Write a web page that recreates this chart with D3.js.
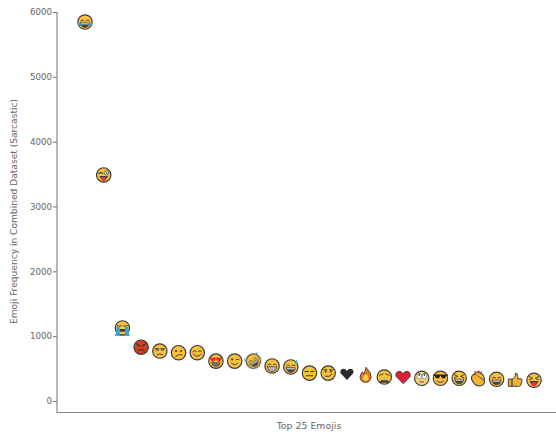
<!DOCTYPE html>
<html>
<head>
<meta charset="utf-8">
<script src="https://d3js.org/d3.v7.min.js"></script>
<style>
body { margin: 0; background: #fff; }
text { font-family: "DejaVu Sans", sans-serif; fill: #666; }
.tick text { font-size: 8.7px; }
.axisText { font-size: 9.4px; }
</style>
</head>
<body>
<div id="chart"></div>
<script>
var svgWidth = 556;
var svgHeight = 432;

var emojis = ["😂", "😜", "😭", "😡", "😒", "😕", "😊", "😍", "😉", "🤣", "😁", "😅", "😑",
    "😏", "🖤", "🔥", "😩", "❤️", "🙄", "😎", "😆", "👏", "😄", "👍", "😝"];
var counts = [5845, 3487, 1127, 830, 770, 745, 745, 615, 615, 615, 540, 525, 430,
    430, 415, 400, 370, 370, 350, 350, 350, 340, 335, 325, 320];
var yTicks = [0, 1000, 2000, 3000, 4000, 5000, 6000];

var yellow = "#f7c03c";
var dark = "#3b3b3b";

var svg = d3.select("#chart")
    .append("svg")
    .attr("width", svgWidth)
    .attr("height", svgHeight);

// The reference emojis are slightly soft raster images
svg.append("defs").append("filter")
    .attr("id", "soft")
    .append("feGaussianBlur")
    .attr("stdDeviation", 0.3);

var xScale = d3.scalePoint().domain(emojis).range([85, 534]);
var yScale = d3.scaleLinear().domain([0, 6000]).range([401, 12]);

// Axes
var leftAxis = d3.axisLeft(yScale).tickValues(yTicks).tickFormat(d3.format("d")).tickSize(4).tickPadding(1);
var yAxis = svg.append("g").attr("transform", "translate(57, 0)").call(leftAxis);
yAxis.select(".domain").remove();
yAxis.selectAll(".tick line").attr("stroke", "#777");

svg.append("path")
    .attr("d", "M57,12V412.5H556")
    .attr("fill", "none")
    .attr("stroke", "#888")
    .attr("stroke-width", 1.2);

svg.append("text")
    .attr("class", "axisText")
    .attr("transform", "translate(16.5, 211.5) rotate(-90)")
    .attr("text-anchor", "middle")
    .style("font-size", "9.1px")
    .text("Emoji Frequency in Combined Dataset (Sarcastic)");

svg.append("text")
    .attr("class", "axisText")
    .attr("x", 309)
    .attr("y", 429)
    .attr("text-anchor", "middle")
    .text("Top 25 Emojis");

// Small helpers for the emoji drawings
function shape(g, d, fill, stroke, w) {
    return g.append("path").attr("d", d)
        .attr("fill", fill || "none")
        .attr("stroke", stroke || "none")
        .attr("stroke-width", w || 1)
        .attr("stroke-linecap", "round");
}
function face(g, fill) {
    g.append("circle").attr("r", 6.8).attr("fill", fill || yellow).attr("stroke", dark).attr("stroke-width", 1.1);
}
function dots(g) {
    g.append("circle").attr("cx", -2.4).attr("cy", -1.6).attr("r", 1).attr("fill", dark);
    g.append("circle").attr("cx", 2.4).attr("cy", -1.6).attr("r", 1).attr("fill", dark);
}
function happyEyes(g) {
    shape(g, "M-4,-1.2Q-2.5,-3 -1,-1.2M1,-1.2Q2.5,-3 4,-1.2", null, dark, 0.9);
}
function grin(g) {
    shape(g, "M-4.2,0.8H4.2Q3.8,5 0,5Q-3.8,5 -4.2,0.8Z", "#444", dark, 0.7);
    shape(g, "M-3.6,1.2H3.6V2.2H-3.6Z", "#eee");
}

var glyphs = {
    "😂": function (g) {
        face(g); happyEyes(g); grin(g);
        shape(g, "M-7,0.2Q-3.6,0 -3.2,3.6Q-6.2,4.6 -7,0.2ZM7,0.2Q3.6,0 3.2,3.6Q6.2,4.6 7,0.2Z", "#3da4dc");
    },
    "😜": function (g) {
        face(g);
        g.append("circle").attr("cx", 2.6).attr("cy", -2).attr("r", 2).attr("fill", "#fff").attr("stroke", dark).attr("stroke-width", 0.7);
        g.append("circle").attr("cx", 2.8).attr("cy", -2).attr("r", 0.8).attr("fill", dark);
        shape(g, "M-4.6,-1.4Q-2.8,-3 -1,-1.4", null, dark, 1);
        shape(g, "M-4,1H4Q3,4 0,4Q-3,4 -4,1Z", dark);
        shape(g, "M-2.2,2H2.2V4.5Q0,6.8 -2.2,4.5Z", "#e8304a");
    },
    "😭": function (g) {
        face(g);
        shape(g, "M-4.6,-2Q-2.6,-1 -1,-2M1,-2Q2.6,-1 4.6,-2", null, dark, 0.9);
        shape(g, "M-2.5,1H2.5V3.5H-2.5Z", dark);
        shape(g, "M-5.5,-1H-2.5V6.8H-6.5ZM2.5,-1H5.5L6.5,6.8H2.5Z", "#35a7dd");
        shape(g, "M-6.5,6.8H6.5", null, "#1b7fb3", 0.9);
    },
    "😡": function (g) {
        face(g, "#dd3a1e");
        shape(g, "M-4.4,-3.2L-1,-1.4M4.4,-3.2L1,-1.4", null, dark, 1);
        dots(g);
        shape(g, "M-2.6,3.2Q0,1.4 2.6,3.2", null, dark, 1.2);
    },
    "😒": function (g) {
        face(g);
        shape(g, "M-4.4,-2.2H-1M1,-2.2H4.4", null, dark, 1);
        shape(g, "M-3.6,-1H-1.4M1.4,-1H3.6", null, dark, 1.1);
        shape(g, "M-2.6,3.4Q0,1.8 2.6,3.4", null, dark, 0.9);
    },
    "😕": function (g) {
        face(g); dots(g);
        shape(g, "M-2.6,3.4Q0,1.2 3,1.8", null, dark, 0.9);
    },
    "😊": function (g) {
        face(g); happyEyes(g);
        g.append("ellipse").attr("cx", -4).attr("cy", 1).attr("rx", 1.5).attr("ry", 1).attr("fill", "#f0946a");
        g.append("ellipse").attr("cx", 4).attr("cy", 1).attr("rx", 1.5).attr("ry", 1).attr("fill", "#f0946a");
        shape(g, "M-3,2Q0,5 3,2", null, dark, 0.9);
    },
    "😍": function (g) {
        face(g);
        shape(g, "M-2.8,1L-5.6,-1.8Q-5.6,-4 -3.9,-3.6L-2.8,-2.8L-1.7,-3.6Q0,-4 0,-1.8Z", "#e32b35");
        shape(g, "M2.8,1L0,-1.8Q0,-4 1.7,-3.6L2.8,-2.8L3.9,-3.6Q5.6,-4 5.6,-1.8Z", "#e32b35");
        shape(g, "M-4,1.6H4Q3.4,5 0,5Q-3.4,5 -4,1.6Z", "#777", dark, 0.6);
    },
    "😉": function (g) {
        face(g);
        g.append("circle").attr("cx", -2.4).attr("cy", -1.6).attr("r", 1).attr("fill", dark);
        shape(g, "M1,-1.4Q2.6,-2.8 4.2,-1.4", null, dark, 0.9);
        shape(g, "M-3,2Q0,4.8 3,2", null, dark, 0.9);
    },
    "🤣": function (g) {
        face(g);
        g.attr("transform", g.attr("transform") + " rotate(-30)");
        happyEyes(g); grin(g);
        shape(g, "M-6,-3Q-8,-5 -6.6,-6Q-4.8,-6 -6,-3Z", "#3da4dc");
        shape(g, "M5.6,-3Q8,-4 6.8,-6Q5,-6 5.6,-3Z", "#3da4dc");
    },
    "😁": function (g) {
        face(g); happyEyes(g);
        shape(g, "M-4.4,0.8H4.4Q4,5 0,5Q-4,5 -4.4,0.8Z", "#ddd", dark, 0.8);
        shape(g, "M-4,2.8H4M-2,1V4.8M0,1V5M2,1V4.8", null, "#777", 0.4);
    },
    "😅": function (g) {
        face(g); happyEyes(g); grin(g);
        shape(g, "M5.6,-6.8Q3,-3.4 4.8,-2.6Q7,-3 5.6,-6.8Z", "#3da4dc");
    },
    "😑": function (g) {
        face(g);
        shape(g, "M-4.2,-1.6H-1M1,-1.6H4.2", null, dark, 1);
        shape(g, "M-3,2.4H3", null, dark, 1);
    },
    "😏": function (g) {
        face(g);
        shape(g, "M-4.2,-3L-1.2,-3.4M1.2,-3.4L4.2,-3", null, dark, 0.8);
        dots(g);
        shape(g, "M-2.8,3Q1,4.4 3.6,1", null, dark, 0.9);
    },
    "🖤": function (g) {
        shape(g, "M0,5.5L-6,-0.8Q-6.8,-4.6 -3.4,-5Q-1.2,-5 0,-3Q1.2,-5 3.4,-5Q6.8,-4.6 6,-0.8Z", "#2b2b2b");
    },
    "🔥": function (g) {
        shape(g, "M0.5,-7Q5.4,-2.4 5.2,2Q4.6,6.6 0,6.8Q-5,6.6 -5.2,2Q-5.2,-0.8 -3,-3Q-2.6,-1 -1.4,-1Q-0.6,-4 0.5,-7Z", "#f2791f", dark, 0.9);
        shape(g, "M0.2,-1.4Q3,1.4 2.6,3.6Q2,5.6 0,5.6Q-2.4,5.4 -2.4,3.2Q-2.2,1 0.2,-1.4Z", "#fbd34a");
    },
    "😩": function (g) {
        face(g);
        shape(g, "M-4.4,-1.6L-1.2,-3M4.4,-1.6L1.2,-3", null, dark, 0.9);
        shape(g, "M-4.2,4.8Q0,-1 4.2,4.8Z", "#444", dark, 0.8);
        shape(g, "M-2.4,2.2H2.4V3H-2.4Z", "#eee");
    },
    "❤️": function (g) {
        shape(g, "M0,6.2L-6.6,-0.6Q-7.6,-4.8 -3.8,-5.4Q-1.2,-5.4 0,-3.2Q1.2,-5.4 3.8,-5.4Q7.6,-4.8 6.6,-0.6Z", "#de1f30", dark, 0.8);
    },
    "🙄": function (g) {
        face(g, "#fad27a");
        g.append("ellipse").attr("cx", -2.4).attr("cy", -1.8).attr("rx", 2.2).attr("ry", 2.6).attr("fill", "#fff").attr("stroke", dark).attr("stroke-width", 0.5);
        g.append("ellipse").attr("cx", 2.4).attr("cy", -1.8).attr("rx", 2.2).attr("ry", 2.6).attr("fill", "#fff").attr("stroke", dark).attr("stroke-width", 0.5);
        shape(g, "M-2.4,-4.2V-2.8M2.4,-4.2V-2.8", null, dark, 1.2);
        shape(g, "M-1.8,3.4H1.8", null, dark, 0.8);
    },
    "😎": function (g) {
        face(g);
        shape(g, "M-7,-3.6H7V-2.4L5.4,-2.4Q5,0.4 2.6,0.2Q0.6,0 0.4,-2.2H-0.4Q-0.6,0 -2.6,0.2Q-5,0.4 -5.4,-2.4L-7,-2.4Z", "#222");
        shape(g, "M-3,2.6Q0,5.2 3,2.6", null, dark, 0.9);
    },
    "😆": function (g) {
        face(g);
        shape(g, "M-4.4,-3.4L-1.4,-1.8L-4.4,-0.6M4.4,-3.4L1.4,-1.8L4.4,-0.6", null, dark, 0.9);
        grin(g);
    },
    "👏": function (g) {
        shape(g, "M-6,0Q-6.4,-4 -2.6,-4.6L1.6,-2L6.2,1.6Q6.6,6 2,6.6Q-3.6,6.6 -6,0Z", "#f3b530", dark, 1);
        shape(g, "M-3.2,-4.6Q-1,-7.8 1.6,-6.4L5,-3.6L6.4,0.4", "#f3b530", dark, 1);
        shape(g, "M-3,-7L-2,-5.4M0.8,-7.6V-5.8M3.6,-6.6L2.8,-5", null, "#b5332a", 1.1);
    },
    "😄": function (g) {
        face(g); happyEyes(g); grin(g);
    },
    "👍": function (g) {
        shape(g, "M-6.2,-0.8H-2.8V6H-6.2Z", "#e8ac2b", dark, 0.9);
        shape(g, "M-2.8,-0.8L0,-3.4V-6.4Q2.4,-6.6 2.4,-3.4L2,-1H5.8Q7,0 6,2L5,5.4Q4.4,6 3,6H-2.8Z", "#f3b530", dark, 0.9);
    },
    "😝": function (g) {
        face(g);
        shape(g, "M-4.4,-3.4L-1.4,-1.8L-4.4,-0.6M4.4,-3.4L1.4,-1.8L4.4,-0.6", null, dark, 0.9);
        shape(g, "M-4,0.8H4Q3.4,3.4 2.6,3.6H-2.6Q-3.4,3.4 -4,0.8Z", dark);
        shape(g, "M-2.4,1.8H2.4V4.6Q0,7 -2.4,4.6Z", "#e8304a");
    }
};

// One emoji per data point
svg.selectAll("g.emoji")
    .data(emojis)
    .enter()
    .append("g")
    .attr("class", "emoji")
    .attr("filter", "url(#soft)")
    .attr("transform", (d, i) => `translate(${xScale(d)}, ${yScale(counts[i])}) scale(1.06)`)
    .each(function (d) {
        glyphs[d](d3.select(this));
    });
</script>
</body>
</html>
